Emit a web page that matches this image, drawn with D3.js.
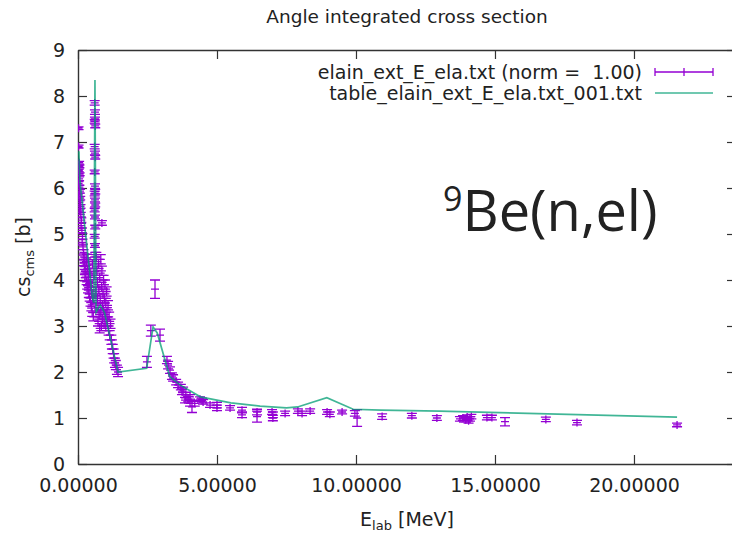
<!DOCTYPE html>
<html>
<head>
<meta charset="utf-8">
<script src="https://d3js.org/d3.v7.min.js"></script>
<style>
  body { margin: 0; background: #fff; }
  text { font-family: "DejaVu Sans", sans-serif; fill: #222; }
</style>
</head>
<body>
<div id="chart"></div>
<script>
// experimental points: [E_lab (MeV), cs (b), error (b)]
const expData = [
  [0.02, 7.30, 0.03], [0.02, 6.90, 0.03], [0.04, 6.55, 0.03], [0.05, 6.47, 0.03],
  [0.03, 6.38, 0.03], [0.06, 6.30, 0.03], [0.04, 6.20, 0.04], [0.02, 6.10, 0.04],
  [0.05, 6.02, 0.04], [0.07, 5.93, 0.04], [0.03, 5.85, 0.04], [0.08, 5.78, 0.04],
  [0.05, 5.68, 0.04], [0.09, 5.60, 0.04], [0.06, 5.50, 0.04], [0.10, 5.42, 0.05],
  [0.12, 5.30, 0.05], [0.11, 5.18, 0.05], [0.14, 5.08, 0.05], [0.16, 4.95, 0.06],
  [0.15, 4.82, 0.06], [0.18, 4.72, 0.06], [0.20, 4.60, 0.06], [0.22, 4.50, 0.07],
  [0.21, 4.38, 0.07], [0.24, 4.30, 0.07], [0.26, 4.22, 0.07], [0.25, 4.05, 0.07],
  [0.28, 4.12, 0.07], [0.30, 4.40, 0.08], [0.31, 3.98, 0.08], [0.33, 3.88, 0.08],
  [0.34, 4.25, 0.08], [0.36, 3.80, 0.08], [0.37, 4.05, 0.08], [0.39, 3.70, 0.08],
  [0.40, 3.92, 0.08], [0.42, 3.62, 0.08], [0.43, 4.15, 0.09], [0.45, 3.52, 0.09],
  [0.46, 3.85, 0.09], [0.48, 3.42, 0.09], [0.49, 3.70, 0.09], [0.51, 3.30, 0.09],
  [0.53, 3.55, 0.09], [0.55, 3.20, 0.09], [0.32, 4.48, 0.08], [0.52, 4.35, 0.09],
  [0.58, 4.10, 0.09], [0.64, 3.75, 0.09],
  // narrow resonance column
  [0.60, 7.85, 0.05], [0.61, 7.65, 0.05], [0.61, 7.50, 0.04], [0.60, 7.45, 0.04],
  [0.62, 7.35, 0.04], [0.60, 6.90, 0.05], [0.61, 6.76, 0.04], [0.62, 6.67, 0.04],
  [0.60, 6.35, 0.04], [0.61, 6.04, 0.05], [0.62, 5.92, 0.05], [0.60, 5.88, 0.05],
  [0.61, 5.74, 0.04], [0.62, 5.63, 0.04], [0.60, 5.52, 0.04], [0.61, 5.37, 0.04],
  [0.62, 5.15, 0.04], [0.60, 4.95, 0.04], [0.61, 4.75, 0.04], [0.62, 4.55, 0.05],
  [0.86, 5.24, 0.05],
  // cluster above 0.65 MeV
  [0.66, 4.50, 0.10], [0.68, 4.20, 0.10], [0.70, 3.95, 0.10], [0.70, 3.60, 0.10],
  [0.72, 3.40, 0.10], [0.72, 3.10, 0.10], [0.74, 4.35, 0.10], [0.75, 3.80, 0.10],
  [0.76, 3.25, 0.10], [0.78, 2.95, 0.10], [0.78, 4.05, 0.10], [0.80, 3.55, 0.10],
  [0.82, 4.45, 0.10], [0.82, 3.30, 0.10], [0.84, 3.00, 0.10], [0.85, 3.85, 0.10],
  [0.86, 4.20, 0.10], [0.88, 3.45, 0.10], [0.88, 3.15, 0.10], [0.90, 3.70, 0.10],
  [0.92, 4.00, 0.10], [0.92, 3.35, 0.10], [0.94, 3.05, 0.10], [0.95, 3.60, 0.10],
  [0.97, 3.90, 0.10], [0.98, 3.25, 0.10], [1.00, 3.50, 0.10], [1.00, 3.00, 0.10],
  [1.03, 3.75, 0.10], [1.04, 3.30, 0.10], [1.06, 3.10, 0.10], [1.08, 3.45, 0.10],
  [1.10, 2.90, 0.10], [1.12, 3.20, 0.10], [1.14, 2.80, 0.10], [1.17, 3.05, 0.10],
  [1.20, 2.70, 0.10], [1.22, 2.60, 0.10], [1.25, 2.50, 0.10], [1.28, 2.40, 0.10],
  [1.30, 2.30, 0.10], [1.33, 2.20, 0.10], [1.36, 2.15, 0.10], [1.40, 2.05, 0.10],
  [1.44, 2.00, 0.10],
  // 2.5 - 3 MeV resonance
  [2.48, 2.22, 0.12], [2.62, 2.90, 0.12], [2.77, 3.80, 0.20], [2.95, 2.80, 0.13],
  // descent
  [3.20, 2.26, 0.08], [3.24, 2.15, 0.08], [3.31, 2.04, 0.07], [3.38, 1.91, 0.07],
  [3.42, 1.87, 0.07], [3.53, 1.78, 0.06], [3.60, 1.72, 0.06], [3.70, 1.67, 0.06],
  [3.74, 1.57, 0.06], [3.78, 1.61, 0.06], [3.85, 1.39, 0.06], [3.88, 1.50, 0.06],
  [3.96, 1.41, 0.06], [4.03, 1.32, 0.06], [4.03, 1.46, 0.05], [4.10, 1.24, 0.12],
  [4.20, 1.32, 0.06], [4.39, 1.41, 0.05], [4.46, 1.38, 0.05], [4.50, 1.35, 0.05],
  [4.75, 1.28, 0.05], [5.00, 1.28, 0.06], [5.00, 1.22, 0.06], [5.47, 1.22, 0.05],
  [5.90, 1.17, 0.06], [5.90, 1.07, 0.06], [6.44, 1.13, 0.06], [6.44, 1.03, 0.12],
  [6.98, 1.13, 0.05], [7.01, 1.07, 0.06], [7.01, 1.00, 0.06], [7.45, 1.10, 0.05],
  [7.91, 1.15, 0.05], [8.06, 1.10, 0.05], [8.35, 1.15, 0.05], [8.96, 1.13, 0.05],
  [9.06, 1.08, 0.05], [9.50, 1.13, 0.04], [9.96, 1.10, 0.06], [10.04, 1.00, 0.18],
  [10.94, 1.03, 0.06], [12.01, 1.05, 0.05], [12.91, 1.00, 0.05], [13.74, 0.98, 0.05],
  [13.85, 1.00, 0.05], [13.95, 0.96, 0.05], [14.00, 1.02, 0.05], [14.05, 0.94, 0.05],
  [14.10, 0.98, 0.05], [14.15, 1.03, 0.05], [14.71, 1.01, 0.05], [14.89, 1.01, 0.05],
  [15.36, 0.92, 0.09], [16.83, 0.97, 0.05], [17.95, 0.90, 0.05], [21.55, 0.85, 0.04]
];

// calculated table (line)
const calcE  = [0.03, 0.07, 0.52, 0.57, 0.61, 0.65, 0.80, 0.95, 1.44, 2.47, 2.70, 2.85, 3.30, 3.67, 4.40, 5.50, 6.55, 7.50, 7.90, 8.95, 9.90, 10.90, 13.00, 21.55];
const calcCs = [6.80, 6.15, 3.60, 3.50, 8.35, 3.30, 3.45, 3.30, 2.00, 2.08, 2.98, 2.85, 1.90, 1.72, 1.46, 1.33, 1.26, 1.22, 1.24, 1.44, 1.19, 1.17, 1.15, 1.02];

const xTicks = [0, 5, 10, 15, 20];
const yTicks = [0, 1, 2, 3, 4, 5, 6, 7, 8, 9];

const width = 732, height = 535;
const frame = { left: 78, right: 736, top: 50, bottom: 464 };
const purple = "#9400d3";
const green = "#009e73";

const svg = d3.select("#chart").append("svg")
    .attr("width", width)
    .attr("height", height);

const x = d3.scaleLinear().domain([0, 23.67]).range([frame.left, frame.right]);
const y = d3.scaleLinear().domain([0, 9]).range([frame.bottom, frame.top]);

svg.append("defs").append("clipPath").attr("id", "clip")
  .append("rect")
    .attr("x", frame.left).attr("y", frame.top)
    .attr("width", frame.right - frame.left)
    .attr("height", frame.bottom - frame.top);

// axes, ticks pointing inwards like gnuplot
const fmtX = d3.format(".5f");
svg.append("g")
    .attr("transform", `translate(0,${frame.bottom})`)
    .call(d3.axisBottom(x).tickValues(xTicks).tickFormat(fmtX).tickSizeInner(-9).tickSizeOuter(0).tickPadding(15));
svg.append("g")
    .attr("transform", `translate(${frame.left},0)`)
    .call(d3.axisLeft(y).tickValues(yTicks).tickFormat(d3.format("d")).tickSizeInner(-9).tickSizeOuter(0).tickPadding(13));
svg.append("g")
    .attr("transform", `translate(0,${frame.top})`)
    .call(d3.axisTop(x).tickValues(xTicks).tickFormat("").tickSizeInner(-9).tickSizeOuter(0));
svg.append("g")
    .attr("transform", `translate(${frame.right},0)`)
    .call(d3.axisRight(y).tickValues(yTicks).tickFormat("").tickSizeInner(-9).tickSizeOuter(0));

svg.selectAll(".tick line").attr("stroke", "#333").attr("stroke-width", 1.2);
svg.selectAll(".domain").attr("stroke", "#333").attr("stroke-width", 1.4);
svg.selectAll(".tick text")
    .style("font-size", "19px")
    .style("font-family", "DejaVu Sans, sans-serif")
    .attr("fill", "#222");

// data with error bars
const cap = 5, arm = 4;
const pts = svg.append("g")
    .attr("clip-path", "url(#clip)")
    .attr("stroke", purple)
    .attr("stroke-width", 1.3)
    .attr("fill", "none");

expData.forEach(([e, cs, err]) => {
    const cx = x(e), cy = y(cs), y0 = y(cs - err), y1 = y(cs + err);
    pts.append("path")
        .attr("d", `M${cx},${y0}V${y1}` +
            `M${cx - cap},${y0}H${cx + cap}` +
            `M${cx - cap},${y1}H${cx + cap}` +
            `M${cx - arm},${cy}H${cx + arm}` +
            `M${cx},${cy - arm}V${cy + arm}`);
});

// calculated line on top
const line = d3.line()
    .x((d, i) => x(calcE[i]))
    .y(d => y(d));

svg.append("path")
    .datum(calcCs)
    .attr("clip-path", "url(#clip)")
    .attr("fill", "none")
    .attr("stroke", green)
    .attr("stroke-opacity", 0.75)
    .attr("stroke-width", 1.7)
    .attr("d", line);

// title and axis labels
svg.append("text")
    .attr("x", (frame.left + frame.right) / 2)
    .attr("y", 23)
    .attr("text-anchor", "middle")
    .style("font-size", "18.5px")
    .text("Angle integrated cross section");

const xl = svg.append("text")
    .attr("x", (frame.left + frame.right) / 2)
    .attr("y", 526)
    .attr("text-anchor", "middle")
    .style("font-size", "19px");
xl.append("tspan").text("E");
xl.append("tspan").attr("dy", 4).style("font-size", "13px").text("lab");
xl.append("tspan").attr("dy", -4).text(" [MeV]");

const yl = svg.append("text")
    .attr("transform", `translate(30,${(frame.top + frame.bottom) / 2}) rotate(-90)`)
    .attr("text-anchor", "middle")
    .style("font-size", "19px");
yl.append("tspan").text("cs");
yl.append("tspan").attr("dy", 4).style("font-size", "13px").text("cms");
yl.append("tspan").attr("dy", -4).text(" [b]");

// legend
const legend = svg.append("g");
legend.append("text")
    .attr("x", 642).attr("y", 72).attr("dy", "0.35em")
    .attr("text-anchor", "end")
    .style("font-size", "19px")
    .style("white-space", "pre")
    .attr("xml:space", "preserve")
    .text("elain_ext_E_ela.txt (norm =  1.00)");
legend.append("path")
    .attr("d", "M655,72H713M655,68V76M713,68V76M684,68V76")
    .attr("stroke", purple)
    .attr("stroke-width", 1.3)
    .attr("fill", "none");
legend.append("text")
    .attr("x", 642).attr("y", 93).attr("dy", "0.35em")
    .attr("text-anchor", "end")
    .style("font-size", "19px")
    .text("table_elain_ext_E_ela.txt_001.txt");
legend.append("path")
    .attr("d", "M655,93H713")
    .attr("stroke", green)
    .attr("stroke-opacity", 0.75)
    .attr("stroke-width", 1.7);

// reaction label
const lab = svg.append("text")
    .attr("x", 443)
    .attr("y", 231)
    .style("font-family", "Open Sans, sans-serif")
    .style("font-size", "56px")
    .attr("fill", "#000");
lab.append("tspan").attr("dy", -20).style("font-size", "34px").text("9");
lab.append("tspan").attr("dy", 20).text("Be(n,el)");
</script>
</body>
</html>
